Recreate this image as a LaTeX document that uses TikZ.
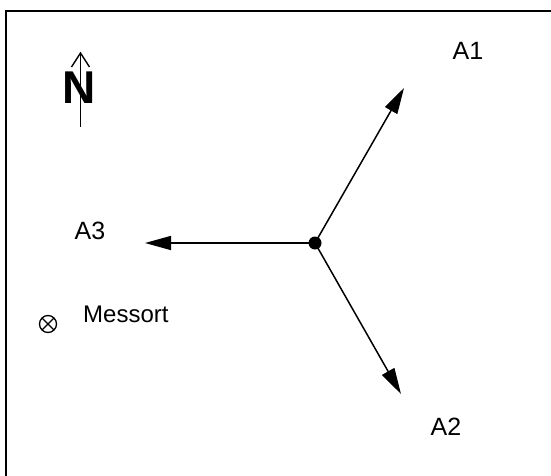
\documentclass[tikz,border=0pt]{standalone}
\usepackage{fontspec}
\setmainfont{Liberation Sans}
\usetikzlibrary{arrows.meta,calc}
\begin{document}
\begin{tikzpicture}[x=1pt,y=-1pt,
  vector/.style = {line width = 1.5pt, -{Triangle[length=26pt, width=14pt]}},
  label/.style = {font = \fontsize{25}{30}\selectfont, inner sep = 0pt}]
\useasboundingbox (0,0) rectangle (551,476);
\draw [line width = 1.3pt] (6,11) rectangle (556,481);
% north sign
\node[font = \fontsize{46}{50}\bfseries, inner sep = 0pt] (nord) at (79,87.5) {N};
\coordinate (ntip) at (80.5,53);
\coordinate (nfoot) at (80.5,127);
\draw [line width = 1.4pt] (nfoot) -- (ntip);
\draw [line width = 1.4pt] (71.5,67) -- (ntip) -- (89.5,67);
% station and vectors
\coordinate (ort) at (315,243);
\coordinate (e1) at (404,88);
\coordinate (e2) at (401,394);
\coordinate (e3) at (145,243);
\draw [vector] (ort) -- (e1);
\draw [vector] (ort) -- (e2);
\draw [vector] (ort) -- (e3);
\fill (ort) circle (6.5);
\node[label] (a1) at (468,51) {A1};
\node[label] (a2) at (446,427) {A2};
\node[label] (a3) at (90,231) {A3};
% measuring point
\coordinate (mess) at (48,324);
\draw [line width = 1.3pt] (mess) circle (8.5);
\draw [line width = 1.3pt] ($(mess)+(-6,-6)$) -- ($(mess)+(6,6)$);
\draw [line width = 1.3pt] ($(mess)+(-6,6)$) -- ($(mess)+(6,-6)$);
\node[font = \fontsize{24}{28}\selectfont, inner sep = 0pt, anchor = west] (messort) at (83,314) {Messort};
\end{tikzpicture}
\end{document}
